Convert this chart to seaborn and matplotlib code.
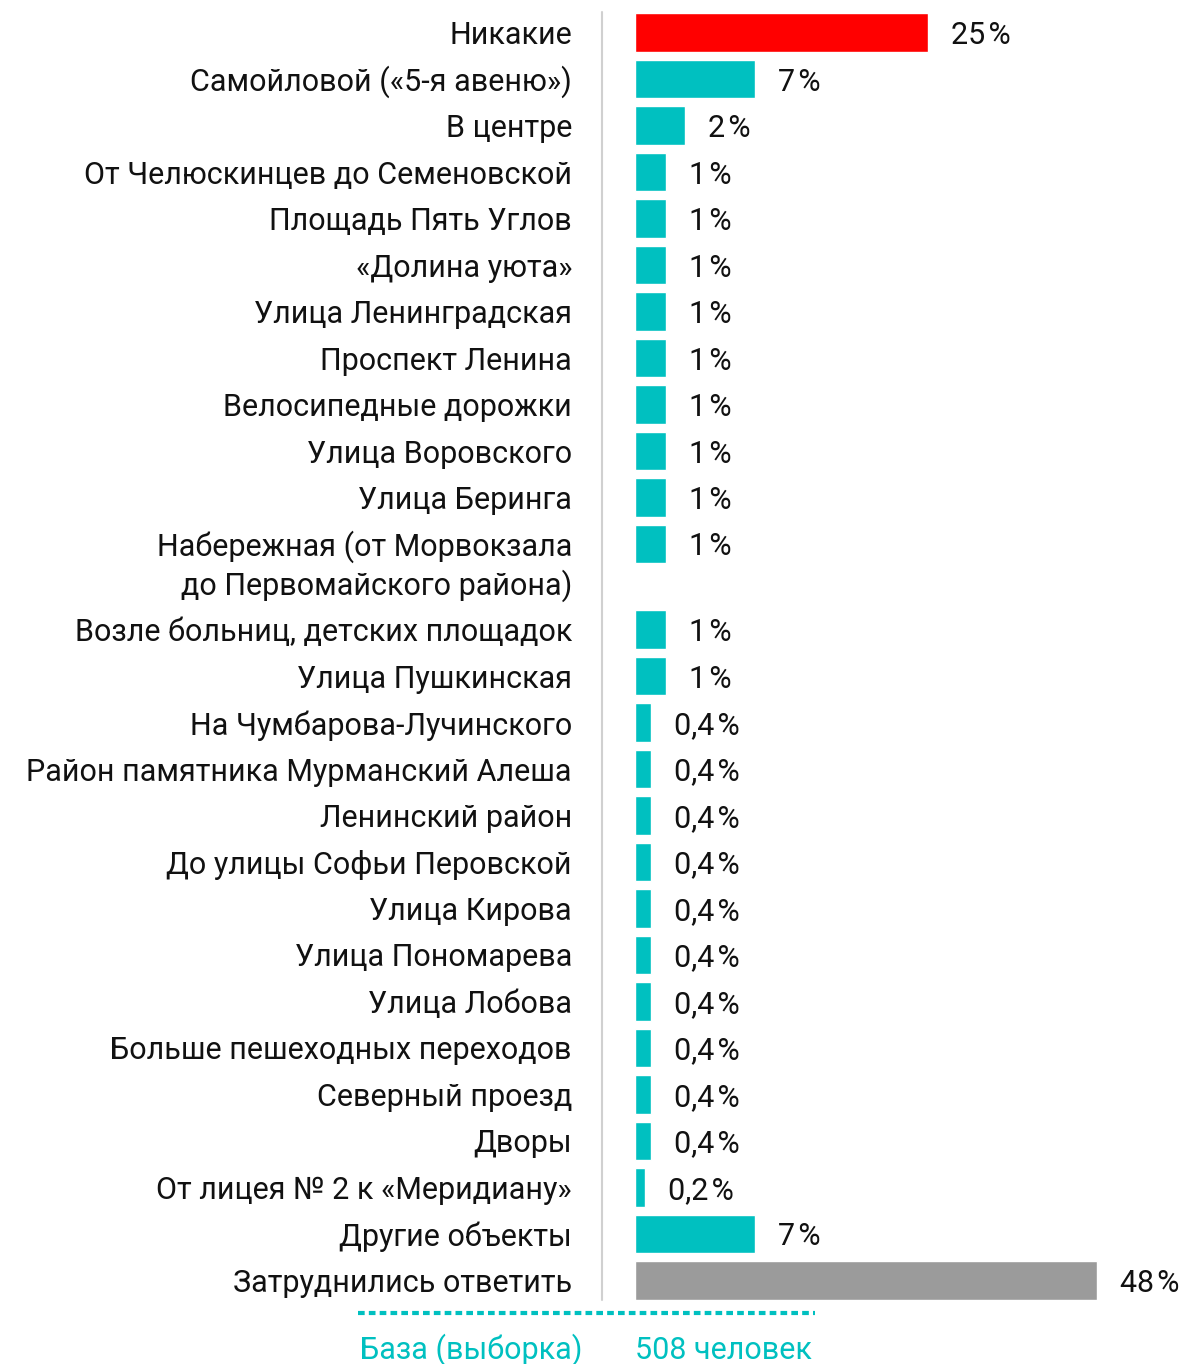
import numpy as np
import pandas as pd
import matplotlib
matplotlib.use("Agg")
import matplotlib.pyplot as plt
from matplotlib.lines import Line2D
import seaborn as sns

# Survey answers, top to bottom
categories = [
    "Никакие",
    "Самойловой («5-я авеню»)",
    "В центре",
    "От Челюскинцев до Семеновской",
    "Площадь Пять Углов",
    "«Долина уюта»",
    "Улица Ленинградская",
    "Проспект Ленина",
    "Велосипедные дорожки",
    "Улица Воровского",
    "Улица Беринга",
    "Набережная (от Морвокзала\nдо Первомайского района)",
    "Возле больниц, детских площадок",
    "Улица Пушкинская",
    "На Чумбарова-Лучинского",
    "Район памятника Мурманский Алеша",
    "Ленинский район",
    "До улицы Софьи Перовской",
    "Улица Кирова",
    "Улица Пономарева",
    "Улица Лобова",
    "Больше пешеходных переходов",
    "Северный проезд",
    "Дворы",
    "От лицея № 2 к «Меридиану»",
    "Другие объекты",
    "Затруднились ответить",
]
shares = [25, 7, 2, 1, 1, 1, 1, 1, 1, 1, 1, 1, 1, 1,
          0.4, 0.4, 0.4, 0.4, 0.4, 0.4, 0.4, 0.4, 0.4, 0.4, 0.2, 7, 48]
share_labels = ["25\u200a%", "7\u200a%", "2\u200a%"] + ["1\u200a%"] * 11 + \
    ["0,4\u200a%"] * 10 + ["0,2\u200a%", "7\u200a%", "48\u200a%"]
groups = ["none"] + ["place"] * 25 + ["unsure"]

base_caption = "База (выборка)"
base_value = "508 человек"

RED, TEAL, GREY = "#FF0000", "#00C0C0", "#9B9B9B"
palette = {"none": RED, "place": TEAL, "unsure": GREY}

sns.set_theme(style="white")
plt.rcParams["font.family"] = ["Roboto", "DejaVu Sans"]
FS = 22

# Row positions: a two-line label takes extra room below its bar
LINE_STEP = 0.84
pos = []
y = 0.0
for lab in categories:
    pos.append(y)
    y += 1 + LINE_STEP * lab.count("\n")

df = pd.DataFrame({"pos": pos, "share": shares, "group": groups})

W, H = 1188, 1364
fig = plt.figure(figsize=(W / 100, H / 100), dpi=100)
ax = fig.add_axes([635 / W, 1 - 1299.5 / H, (W - 635) / W, (1299.5 - 13.5) / H])

sns.barplot(data=df, x="share", y="pos", hue="group", palette=palette,
            orient="h", native_scale=True, width=0.82, dodge=False,
            legend=False, saturation=1, ax=ax)

# Compressed power scale for the share axis
P = 0.7
ax.set_xscale("function", functions=(lambda v: np.sign(v) * np.abs(v) ** P,
                                     lambda v: np.sign(v) * np.abs(v) ** (1 / P)))
ax.set_xlim(0, 62)
ax.set_ylim(pos[-1] + 0.41, pos[0] - 0.41)
ax.set_axis_off()

for lab, p, v, txt in zip(categories, pos, shares, share_labels):
    for i, line in enumerate(lab.split("\n")):
        ax.annotate(line, xy=(0, p + i * LINE_STEP), xycoords=("axes fraction", "data"),
                    xytext=(-63, -3), textcoords="offset pixels",
                    ha="right", va="center", fontsize=FS, color="#111111")
    ax.annotate(txt, xy=(v, p), xycoords="data", xytext=(23, -3),
                textcoords="offset pixels", ha="left", va="center",
                fontsize=FS, color="#111111")

# Separator between labels and bars
fig.add_artist(Line2D([602 / W, 602 / W], [1 - 12 / H, 1 - 1300 / H],
                      color="#D0D0D0", lw=1.5))

# Sample size footer
fig.add_artist(Line2D([358 / W, 815 / W], [1 - 1313 / H, 1 - 1313 / H],
                      color=TEAL, lw=3, linestyle=(0, (1.6, 1.0))))
fig.text(360 / W, 1 - 1359 / H, base_caption, ha="left", va="baseline",
         fontsize=FS, color=TEAL)
fig.text(635 / W, 1 - 1359 / H, base_value, ha="left", va="baseline",
         fontsize=FS, color=TEAL)

fig.savefig("out.png", dpi=100)
